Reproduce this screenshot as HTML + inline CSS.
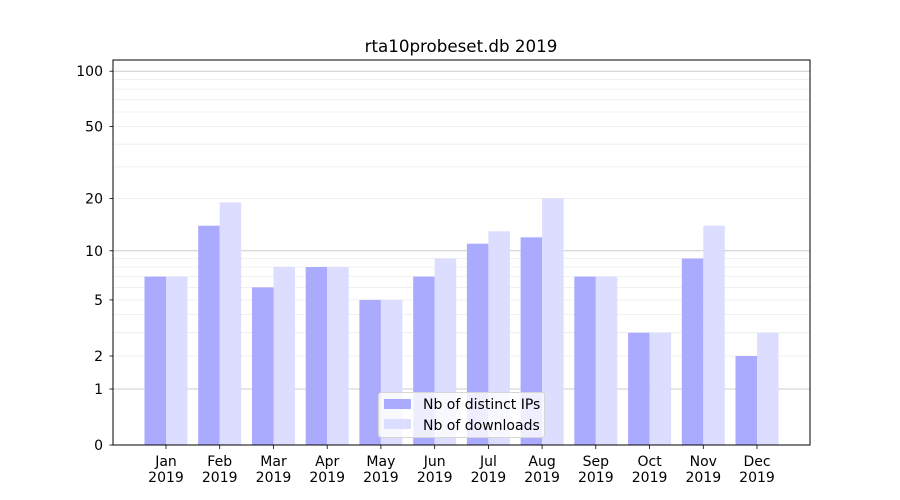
<!DOCTYPE html>
<html><head><meta charset="utf-8"><style>body{margin:0;background:#fff}svg{display:block}text{font-family:"DejaVu Sans","Liberation Sans",sans-serif;fill:#000}</style></head><body>
<svg width="900" height="500" viewBox="0 0 900 500" xmlns="http://www.w3.org/2000/svg">
<rect width="900" height="500" fill="#fff"/>
<g stroke="#ececec" stroke-width="0.8">
<line x1="113" x2="810" y1="356" y2="356"/><line x1="113" x2="810" y1="332.7" y2="332.7"/><line x1="113" x2="810" y1="314.6" y2="314.6"/><line x1="113" x2="810" y1="299.9" y2="299.9"/><line x1="113" x2="810" y1="287.4" y2="287.4"/><line x1="113" x2="810" y1="276.6" y2="276.6"/><line x1="113" x2="810" y1="267" y2="267"/><line x1="113" x2="810" y1="258.5" y2="258.5"/>
<line x1="113" x2="810" y1="198.4" y2="198.4"/><line x1="113" x2="810" y1="166.9" y2="166.9"/><line x1="113" x2="810" y1="144.2" y2="144.2"/><line x1="113" x2="810" y1="126.5" y2="126.5"/><line x1="113" x2="810" y1="112" y2="112"/><line x1="113" x2="810" y1="99.7" y2="99.7"/><line x1="113" x2="810" y1="89.1" y2="89.1"/><line x1="113" x2="810" y1="79.6" y2="79.6"/>
</g>
<g stroke="#cccccc" stroke-width="1"><line x1="113" x2="810" y1="389" y2="389"/><line x1="113" x2="810" y1="250.8" y2="250.8"/><line x1="113" x2="810" y1="71.2" y2="71.2"/></g>
<g fill="#aaaaff">
<rect x="144.5" y="276.6" width="21.5" height="168.4"/>
<rect x="198.2" y="225.7" width="21.5" height="219.3"/>
<rect x="252" y="287.4" width="21.5" height="157.6"/>
<rect x="305.7" y="267" width="21.5" height="178"/>
<rect x="359.4" y="299.9" width="21.5" height="145.1"/>
<rect x="413.2" y="276.6" width="21.5" height="168.4"/>
<rect x="466.9" y="243.7" width="21.5" height="201.3"/>
<rect x="520.6" y="237.3" width="21.5" height="207.7"/>
<rect x="574.3" y="276.6" width="21.5" height="168.4"/>
<rect x="628.1" y="332.7" width="21.5" height="112.3"/>
<rect x="681.8" y="258.5" width="21.5" height="186.5"/>
<rect x="735.5" y="356" width="21.5" height="89"/>
</g>
<g fill="#ddddff">
<rect x="166" y="276.6" width="21.5" height="168.4"/>
<rect x="219.7" y="202.4" width="21.5" height="242.6"/>
<rect x="273.5" y="267" width="21.5" height="178"/>
<rect x="327.2" y="267" width="21.5" height="178"/>
<rect x="380.9" y="299.9" width="21.5" height="145.1"/>
<rect x="434.7" y="258.5" width="21.5" height="186.5"/>
<rect x="488.4" y="231.3" width="21.5" height="213.7"/>
<rect x="542.1" y="198.4" width="21.5" height="246.6"/>
<rect x="595.8" y="276.6" width="21.5" height="168.4"/>
<rect x="649.6" y="332.7" width="21.5" height="112.3"/>
<rect x="703.3" y="225.7" width="21.5" height="219.3"/>
<rect x="757" y="332.7" width="21.5" height="112.3"/>
</g>
<rect x="113" y="60" width="697" height="385" fill="none" stroke="#000" stroke-width="1"/>
<g stroke="#000" stroke-width="0.8">
<line x1="109.5" x2="113" y1="445" y2="445"/><line x1="109.5" x2="113" y1="389" y2="389"/><line x1="109.5" x2="113" y1="356" y2="356"/><line x1="109.5" x2="113" y1="299.9" y2="299.9"/><line x1="109.5" x2="113" y1="250.8" y2="250.8"/><line x1="109.5" x2="113" y1="198.4" y2="198.4"/><line x1="109.5" x2="113" y1="126.5" y2="126.5"/><line x1="109.5" x2="113" y1="71.2" y2="71.2"/>
<line x1="166" x2="166" y1="445" y2="449"/><line x1="219.7" x2="219.7" y1="445" y2="449"/><line x1="273.5" x2="273.5" y1="445" y2="449"/><line x1="327.2" x2="327.2" y1="445" y2="449"/><line x1="380.9" x2="380.9" y1="445" y2="449"/><line x1="434.7" x2="434.7" y1="445" y2="449"/><line x1="488.4" x2="488.4" y1="445" y2="449"/><line x1="542.1" x2="542.1" y1="445" y2="449"/><line x1="595.8" x2="595.8" y1="445" y2="449"/><line x1="649.6" x2="649.6" y1="445" y2="449"/><line x1="703.3" x2="703.3" y1="445" y2="449"/><line x1="757" x2="757" y1="445" y2="449"/>
</g>
<g font-size="14" text-anchor="end">
<text x="103" y="450">0</text><text x="103" y="394">1</text><text x="103" y="361">2</text><text x="103" y="304.9">5</text><text x="103" y="255.8">10</text><text x="103" y="203.4">20</text><text x="103" y="131.5">50</text><text x="103" y="76.2">100</text>
</g>
<g font-size="14" text-anchor="middle">
<text x="166" y="466">Jan</text><text x="166" y="482">2019</text>
<text x="219.7" y="466">Feb</text><text x="219.7" y="482">2019</text>
<text x="273.5" y="466">Mar</text><text x="273.5" y="482">2019</text>
<text x="327.2" y="466">Apr</text><text x="327.2" y="482">2019</text>
<text x="380.9" y="466">May</text><text x="380.9" y="482">2019</text>
<text x="434.7" y="466">Jun</text><text x="434.7" y="482">2019</text>
<text x="488.4" y="466">Jul</text><text x="488.4" y="482">2019</text>
<text x="542.1" y="466">Aug</text><text x="542.1" y="482">2019</text>
<text x="595.8" y="466">Sep</text><text x="595.8" y="482">2019</text>
<text x="649.6" y="466">Oct</text><text x="649.6" y="482">2019</text>
<text x="703.3" y="466">Nov</text><text x="703.3" y="482">2019</text>
<text x="757" y="466">Dec</text><text x="757" y="482">2019</text>
<text x="461" y="52" font-size="16.7">rta10probeset.db 2019</text>
</g>
<rect x="378.5" y="392.5" width="166" height="45" rx="3" fill="#fff" fill-opacity="0.8" stroke="#d6d6d6"/>
<rect x="384" y="399" width="27" height="10" fill="#aaaaff"/>
<rect x="384" y="419" width="27" height="10" fill="#ddddff"/>
<g font-size="14"><text x="423" y="409">Nb of distinct IPs</text><text x="423" y="430">Nb of downloads</text></g>
</svg>
</body></html>
